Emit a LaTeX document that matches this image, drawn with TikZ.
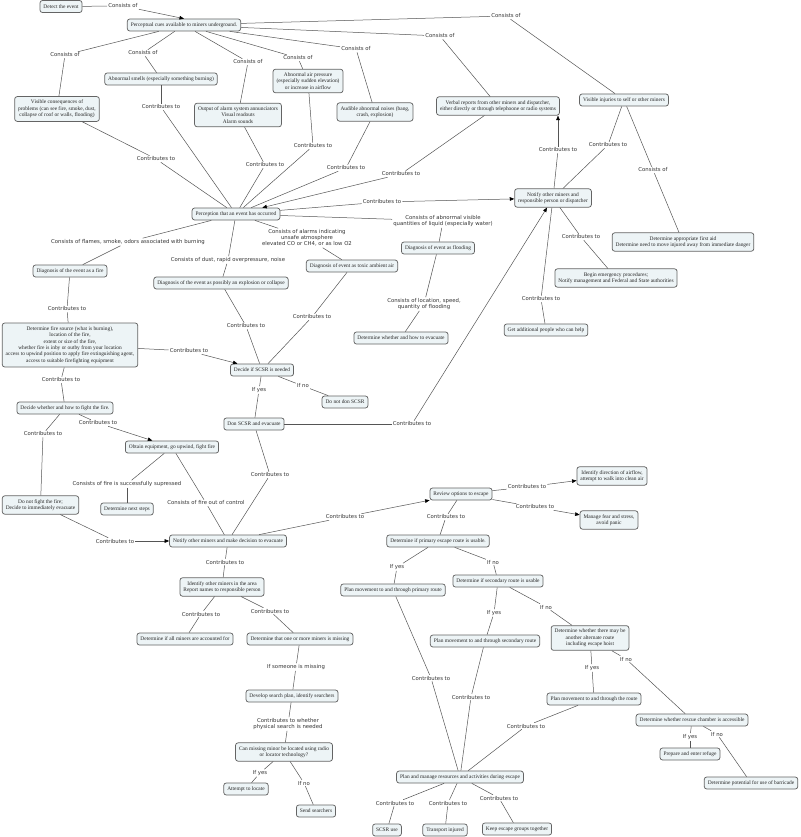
\documentclass[tikz,border=0pt]{standalone}
\usepackage{fontspec}
\setmainfont{Liberation Serif}
\newfontfamily\labfont{DejaVu Sans}
\usetikzlibrary{arrows.meta}
\definecolor{cfill}{RGB}{237,244,246}
\definecolor{cdraw}{RGB}{100,100,100}
\definecolor{lcol}{RGB}{85,85,85}
\newcommand\cmlink[3]{\draw[ln] (#1) -- (#2); \draw[ln] (#2) -- (#3);}
\newcommand\cmlinka[3]{\draw[ln] (#1) -- (#2); \draw[ln,arr] (#2) -- (#3);}
\begin{document}
\begin{tikzpicture}[x=1pt,y=-1pt,
 cpt/.style={draw=cdraw, fill=cfill, line width=0.75pt, rounded corners=2.5pt, align=center,
   font=\fontsize{5.4}{6.4}\selectfont, inner xsep=3.5pt, inner ysep=3.5pt, minimum height=12pt, text=black!85},
 lab/.style={align=center, font=\labfont\fontsize{5.35}{6.2}\selectfont, inner sep=1pt, text=black!80},
 ln/.style={draw=lcol, line width=0.5pt},
 arr/.style={-{Triangle[length=4.5pt,width=3.6pt,color=black]}}]
\fill[white] (0,0) rectangle (800,837);
\useasboundingbox (0,0) rectangle (800,837);

% concepts
\node[cpt] (detect) at (61,6.5) {Detect the event};
\node[cpt] (pc) at (184,25) {Perceptual cues available to miners underground.};
\node[cpt] (vis) at (57,109) {Visible consequences of\\problems (can see fire, smoke, dust,\\collapse of roof or walls, flooding)};
\node[cpt] (smell) at (161,79) {Abnormal smells (especially something burning)};
\node[cpt] (alarm) at (238,115) {Output of alarm system annunciators\\Visual readouts\\Alarm sounds};
\node[cpt] (air) at (308,81) {Abnormal air pressure\\(especially sudden elevation)\\or increase in airflow};
\node[cpt] (noise) at (375,112) {Audible abnormal noises (bang,\\crash, explosion)};
\node[cpt] (verbal) at (498,106) {Verbal reports from other miners and dispatcher,\\either directly or through telephoone or radio systems};
\node[cpt] (inj) at (624,100) {Visible injuries to self or other miners};
\node[cpt] (perc) at (236,214) {Perception that an event has occurred};
\node[cpt] (notify) at (553,198) {Notify other miners and\\responsible person or dispatcher};
\node[cpt] (aid) at (683,242) {Determine appropriate first aid\\Determine need to move injured away from immediate danger};
\node[cpt] (begin) at (616,278) {Begin emergency procedures;\\Notify management and Federal and State authorities};
\node[cpt] (getp) at (546,330) {Get additional people who can help};
\node[cpt] (dfire) at (70,271) {Diagnosis of the event as a fire};
\node[cpt] (dexp) at (221,283) {Diagnosis of the event as possibly an explosion or collapse};
\node[cpt] (dtox) at (352,266) {Diagnosis of event as toxic ambient air};
\node[cpt] (dflood) at (438,248) {Diagnosis of event as flooding};
\node[cpt] (evac) at (401,338) {Determine whether and how to evacuate};
\node[cpt] (src) at (70,345) {Determine fire source (what is burning),\\location of the fire,\\extent or size of the fire,\\whether fire is inby or outby from your location\\access to upwind position to apply fire extinguishing agent,\\access to suitable firefighting equipment};
\node[cpt] (scsr) at (262,370) {Decide if SCSR is needed};
\node[cpt] (nodon) at (345,402) {Do not don SCSR};
\node[cpt] (don) at (254,424) {Don SCSR and evacuate};
\node[cpt] (fight) at (65,408) {Decide whether and how to fight the fire.};
\node[cpt] (obtain) at (172,447) {Obtain equipment, go upwind, fight fire};
\node[cpt] (next) at (127,509) {Determine next steps};
\node[cpt] (nofight) at (40.5,505) {Do not fight the fire;\\Decide to immediately evacuate};
\node[cpt] (nmd) at (228,541) {Notify other miners and make decision to evacuate};
\node[cpt] (ident) at (222,587) {Identify other miners in the area\\Report names to responsible person};
\node[cpt] (allacc) at (185,639) {Determine if all miners are accounted for};
\node[cpt] (missing) at (300,639) {Determine that one or more miners is missing};
\node[cpt] (search) at (292,696) {Develop search plan, identify searchers};
\node[cpt] (radio) at (284,752) {Can missing minor be located using radio\\or locator technology?};
\node[cpt] (locate) at (246,789) {Attempt to locate};
\node[cpt] (send) at (316,811) {Send searchers};
\node[cpt] (review) at (461,494) {Review options to escape};
\node[cpt] (dir) at (612,476) {Identify direction of airflow,\\attempt to walk into clean air};
\node[cpt] (fear) at (609,520) {Manage fear and stress,\\avoid panic};
\node[cpt] (prim) at (438,541) {Determine if primary escape route is usable.};
\node[cpt] (planp) at (393,590) {Plan movement to and through primary route};
\node[cpt] (sec) at (498,581) {Determine if secondary route is usable};
\node[cpt] (plans) at (485,641) {Plan movement to and through secondary route};
\node[cpt] (alt) at (590,638) {Determine whether there may be\\another alternate route\\including escape hoist};
\node[cpt] (plant) at (594,699) {Plan movement to and through the route};
\node[cpt] (resc) at (692,720) {Determine whether rescue chamber is accessible};
\node[cpt] (refuge) at (690,754) {Prepare and enter refuge};
\node[cpt] (barr) at (751,783) {Determine potential for use of barricade};
\node[cpt] (manage) at (460,777) {Plan and manage resources and activities during escape};
\node[cpt] (scsruse) at (387,830) {SCSR use};
\node[cpt] (transp) at (445,830) {Transport injured};
\node[cpt] (keep) at (517,829) {Keep escape groups together};

% labels
\node[lab] (l1) at (123,6) {Consists of};
\node[lab] (l2) at (65,55) {Consists of};
\node[lab] (l3) at (143,53) {Consists of};
\node[lab] (l4) at (248,62) {Consists of};
\node[lab] (l5) at (298,58) {Consists of};
\node[lab] (l6) at (356,49) {Consists of};
\node[lab] (l7) at (440,36) {Consists of};
\node[lab] (l8) at (506,16) {Consists of};
\node[lab] (l9) at (161,107) {Contributes to};
\node[lab] (l10) at (156,159) {Contributes to};
\node[lab] (l11) at (265,165) {Contributes to};
\node[lab] (l12) at (313,146) {Contributes to};
\node[lab] (l13) at (346,168) {Contributes to};
\node[lab] (l14) at (401,174) {Contributes to};
\node[lab] (l15) at (382,202) {Contributes to};
\node[lab] (l16) at (558,150) {Contributes to};
\node[lab] (l17) at (608,145) {Contributes to};
\node[lab] (l18) at (653,170) {Consists of};
\node[lab] (l19) at (581,237) {Contributes to};
\node[lab] (l20) at (541,299) {Contributes to};
\node[lab] (l21) at (128,242) {Consists of flames, smoke, odors associated with burning};
\node[lab] (l22) at (228,260) {Consists of dust, rapid overpressure, noise};
\node[lab] (l23) at (307,238) {Consists of alarms indicating\\unsafe atmosphere\\elevated CO or CH4, or as low O2};
\node[lab] (l24) at (443,221) {Consists of abnormal visible\\quantities of liquid (especially water)};
\node[lab] (l25) at (424,304) {Consists of location, speed,\\quantity of flooding};
\node[lab] (l26) at (67,309) {Contributes to};
\node[lab] (l27) at (189,351) {Contributes to};
\node[lab] (l28) at (246,326) {Contributes to};
\node[lab] (l29) at (312,317) {Contributes to};
\node[lab] (l30) at (259,390) {If yes};
\node[lab] (l31) at (303,386) {If no};
\node[lab] (l32) at (412,424) {Contributes to};
\node[lab] (l33) at (61,380) {Contributes to};
\node[lab] (l34) at (43,434) {Contributes to};
\node[lab] (l35) at (98,423) {Contributes to};
\node[lab] (l36) at (127,484) {Consists of fire is successfully supressed};
\node[lab] (l37) at (206,503) {Consists of fire out of control};
\node[lab] (l38) at (115,541) {Contributes to};
\node[lab] (l39) at (270,475) {Contributes to};
\node[lab] (l40) at (225,562) {Contributes to};
\node[lab] (l41) at (201,614) {Contributes to};
\node[lab] (l42) at (270,611) {Contributes to};
\node[lab] (l43) at (296,667) {If someone is missing};
\node[lab] (l44) at (288,724) {Contributes to whether\\physical search is needed};
\node[lab] (l45) at (260,773) {If yes};
\node[lab] (l46) at (304,783) {If no};
\node[lab] (l47) at (345,517) {Contributes to};
\node[lab] (l48) at (527,487) {Contributes to};
\node[lab] (l49) at (535,507) {Contributes to};
\node[lab] (l50) at (446,517) {Contributes to};
\node[lab] (l51) at (397,567) {If yes};
\node[lab] (l52) at (493,562) {If no};
\node[lab] (l53) at (494,613) {If yes};
\node[lab] (l54) at (546,607) {If no};
\node[lab] (l55) at (592,668) {If yes};
\node[lab] (l56) at (626,659) {If no};
\node[lab] (l57) at (690,737) {If yes};
\node[lab] (l58) at (717,734) {If no};
\node[lab] (l59) at (431,678) {Contributes to};
\node[lab] (l60) at (471,697) {Contributes to};
\node[lab] (l61) at (526,726) {Contributes to};
\node[lab] (l62) at (395,803) {Contributes to};
\node[lab] (l63) at (448,803) {Contributes to};
\node[lab] (l64) at (499,798) {Contributes to};

% links
\draw[ln] (detect) -- (l1); \draw[ln,arr] (l1) -- (pc.north);
\cmlink{pc}{l2}{vis}
\cmlink{pc}{l3}{smell}
\cmlink{pc}{l4}{alarm}
\cmlink{pc}{l5}{air}
\cmlink{pc}{l6}{noise}
\cmlink{pc}{l7}{verbal}
\cmlink{pc}{l8}{inj}
\cmlink{smell}{l9}{perc}
\cmlink{vis}{l10}{perc}
\cmlink{alarm}{l11}{perc}
\cmlink{air}{l12}{perc}
\cmlink{noise}{l13}{perc}
\cmlinka{verbal}{l14}{perc}
\cmlinka{perc}{l15}{notify}
\draw[ln] (notify) -- (l16); \draw[ln,arr] (l16) -- (l16 |- verbal.south);
\cmlink{inj}{l17}{notify}
\cmlink{inj}{l18}{aid}
\cmlink{notify}{l19}{begin}
\cmlink{notify}{l20}{getp}
\cmlink{perc}{l21}{dfire}
\cmlink{perc}{l22}{dexp}
\cmlink{perc}{l23}{dtox}
\cmlink{perc}{l24}{dflood}
\cmlink{dflood}{l25}{evac}
\cmlink{dfire}{l26}{src}
\cmlinka{src}{l27}{scsr}
\cmlink{dexp}{l28}{scsr}
\cmlink{dtox}{l29}{scsr}
\cmlink{scsr}{l30}{don}
\cmlink{scsr}{l31}{nodon}
\cmlinka{don}{l32}{notify}
\cmlink{src}{l33}{fight}
\cmlink{fight}{l34}{nofight}
\cmlinka{fight}{l35}{obtain}
\cmlink{obtain}{l36}{next}
\cmlink{obtain}{l37}{nmd}
\cmlinka{nofight}{l38}{nmd}
\cmlink{don}{l39}{nmd}
\cmlink{nmd}{l40}{ident}
\cmlink{ident}{l41}{allacc}
\cmlink{ident}{l42}{missing}
\cmlink{missing}{l43}{search}
\cmlink{search}{l44}{radio}
\cmlink{radio}{l45}{locate}
\cmlink{radio}{l46}{send}
\cmlinka{nmd}{l47}{review}
\cmlinka{review}{l48}{dir}
\cmlinka{review}{l49}{fear}
\cmlink{review}{l50}{prim}
\cmlink{prim}{l51}{planp}
\cmlink{prim}{l52}{sec}
\cmlink{sec}{l53}{plans}
\cmlink{sec}{l54}{alt}
\cmlink{alt}{l55}{plant}
\cmlink{alt}{l56}{resc}
\cmlink{resc}{l57}{refuge}
\cmlink{resc}{l58}{barr}
\cmlink{planp}{l59}{manage}
\cmlink{plans}{l60}{manage}
\cmlink{plant}{l61}{manage}
\cmlink{manage}{l62}{scsruse}
\cmlink{manage}{l63}{transp}
\cmlink{manage}{l64}{keep}
\end{tikzpicture}
\end{document}
